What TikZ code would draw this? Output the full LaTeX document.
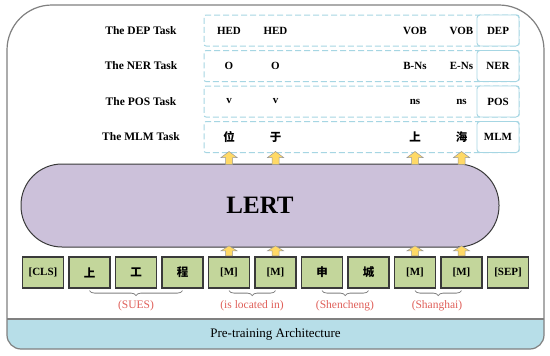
\documentclass[tikz,border=0pt]{standalone}
\usepackage{fontspec}
\setmainfont{Liberation Serif}
\newfontfamily\cjk{Noto Sans CJK SC}
\usetikzlibrary{decorations.pathreplacing}
\definecolor{tokgreen}{HTML}{C3D69B}
\definecolor{lertfill}{HTML}{CCC1DA}
\definecolor{bandfill}{HTML}{B7DEE8}
\definecolor{dashblue}{HTML}{A6D6E3}
\definecolor{redtxt}{HTML}{E0605A}
\definecolor{arrowfill}{HTML}{FFD966}
\definecolor{darkline}{HTML}{3A3A3A}
\definecolor{outergray}{HTML}{808080}
\begin{document}
\begin{tikzpicture}[x=1pt,y=-1pt,
  outer/.style={draw=outergray, line width=1.2pt},
  dashbox/.style={draw=dashblue, dashed, dash pattern=on 6pt off 3pt, line width=1pt, rounded corners=2pt, minimum width=315pt, minimum height=31pt, inner sep=0pt},
  tagbox/.style={draw=dashblue, fill=white, line width=0.9pt, rounded corners=3pt, minimum width=42pt, minimum height=31pt, inner sep=0pt, font=\bfseries\fontsize{11}{13}\selectfont},
  tasklabel/.style={font=\bfseries\fontsize{11.5}{13}\selectfont, inner sep=0pt},
  lab/.style={font=\bfseries\fontsize{11}{13}\selectfont, inner sep=0pt},
  clab/.style={font=\cjk\bfseries\fontsize{11.5}{13}\selectfont, inner sep=0pt},
  tok/.style={draw=darkline, fill=tokgreen, line width=1.2pt, minimum width=41pt, minimum height=31pt, inner sep=0pt, font=\bfseries\fontsize{11}{13}\selectfont},
  ctok/.style={tok, font=\cjk\bfseries\fontsize{11.5}{13}\selectfont},
  bracestyle/.style={draw=outergray, line width=0.8pt, decorate, decoration={brace, mirror, amplitude=5pt}},
  redlabel/.style={text=redtxt, font=\fontsize{11.5}{13}\selectfont, inner sep=0pt},
  arr/.style={draw=gray!80, fill=arrowfill, line width=0.5pt},
  uparrowA/.pic={\draw[arr] (-3.5,1) -- (-3.5,-6) -- (-8,-6) -- (0,-12) -- (8,-6) -- (3.5,-6) -- (3.5,1) -- cycle;},
  uparrowB/.pic={\draw[arr] (-3.5,0) -- (-3.5,-5) -- (-8,-5) -- (0,-10) -- (8,-5) -- (3.5,-5) -- (3.5,0) -- cycle;}
]
\useasboundingbox (0,0) rectangle (550,356);
\fill[white] (0,0) rectangle (550,356);

% bottom band
\begin{scope}
  \clip (0,319) rectangle (550,356);
  \fill[bandfill, rounded corners=14pt] (7,280) rectangle (544,349);
\end{scope}
\draw[outer] (7,200) [rounded corners=14pt] -- (7,349) -- (544,349) -- (544,200) [rounded corners=45pt] -- (544,5) -- (7,5) -- cycle;
\draw[outer] (7,319) -- (544,319);
\node[font=\fontsize{13}{15}\selectfont, inner sep=0pt] (pta) at (275.5,334) {Pre-training Architecture};

% task rows
\node[dashbox] (row1) at (361.5,30.5) {};
\node[dashbox] (row2) at (361.5,66) {};
\node[dashbox] (row3) at (361.5,101.5) {};
\node[dashbox] (row4) at (361.5,137) {};
\node[tagbox] (dep) at (498,30.5) {DEP};
\node[tagbox] (ner) at (498,66) {NER};
\node[tagbox] (pos) at (498,101.5) {POS};
\node[tagbox] (mlm) at (498,137) {MLM};

\node[tasklabel] (tl1) at (141,30.5) {The DEP Task};
\node[tasklabel] (tl2) at (141,66) {The NER Task};
\node[tasklabel] (tl3) at (141,101.5) {The POS Task};
\node[tasklabel] (tl4) at (141,137) {The MLM Task};

\node[lab] (d1) at (229,30.5) {HED};
\node[lab] (d2) at (275.5,30.5) {HED};
\node[lab] (d3) at (415,30.5) {VOB};
\node[lab] (d4) at (461.5,30.5) {VOB};
\node[lab] (n1) at (229,66) {O};
\node[lab] (n2) at (275.5,66) {O};
\node[lab] (n3) at (415,66) {B-Ns};
\node[lab] (n4) at (461.5,66) {E-Ns};
\node[lab] (p1) at (229,101.5) {v};
\node[lab] (p2) at (275.5,101.5) {v};
\node[lab] (p3) at (415,101.5) {ns};
\node[lab] (p4) at (461.5,101.5) {ns};
\node[clab] (m1) at (229,137) {位};
\node[clab] (m2) at (275.5,137) {于};
\node[clab] (m3) at (415,137) {上};
\node[clab] (m4) at (461.5,137) {海};

% LERT
\node[draw=darkline, fill=lertfill, line width=1pt, rounded corners=41pt, minimum width=478pt, minimum height=83pt, inner sep=0pt] (lert) at (260,205.5) {};
\node[font=\bfseries\fontsize{25}{28}\selectfont, inner sep=0pt] (lerttxt) at (260,205) {LERT};

% tokens
\node[tok]  (t1)  at (43,272.5) {[CLS]};
\node[ctok] (t2)  at (89.5,272.5) {上};
\node[ctok] (t3)  at (136,272.5) {工};
\node[ctok] (t4)  at (182.5,272.5) {程};
\node[tok]  (t5)  at (229,272.5) {[M]};
\node[tok]  (t6)  at (275.5,272.5) {[M]};
\node[ctok] (t7)  at (322,272.5) {申};
\node[ctok] (t8)  at (368.5,272.5) {城};
\node[tok]  (t9)  at (415,272.5) {[M]};
\node[tok]  (t10) at (461.5,272.5) {[M]};
\node[tok]  (t11) at (508,272.5) {[SEP]};

% arrows
\foreach \t in {t5,t6,t9,t10}{
  \path (\t |- lert.north) pic{uparrowA};
  \path ([yshift=0.6pt]\t.north) pic{uparrowB};
}

% braces
\draw[bracestyle] ([yshift=-2pt]t2.south) -- ([yshift=-2pt]t4.south);
\draw[bracestyle] ([yshift=-2pt]t5.south) -- ([yshift=-2pt]t6.south);
\draw[bracestyle] ([yshift=-2pt]t7.south) -- ([yshift=-2pt]t8.south);
\draw[bracestyle] ([yshift=-2pt]t9.south) -- ([yshift=-2pt]t10.south);
\node[redlabel] (b1) at (136,306) {(SUES)};
\node[redlabel] (b2) at (252,306) {(is located in)};
\node[redlabel] (b3) at (345,306) {(Shencheng)};
\node[redlabel] (b4) at (437,306) {(Shanghai)};
\end{tikzpicture}
\end{document}
